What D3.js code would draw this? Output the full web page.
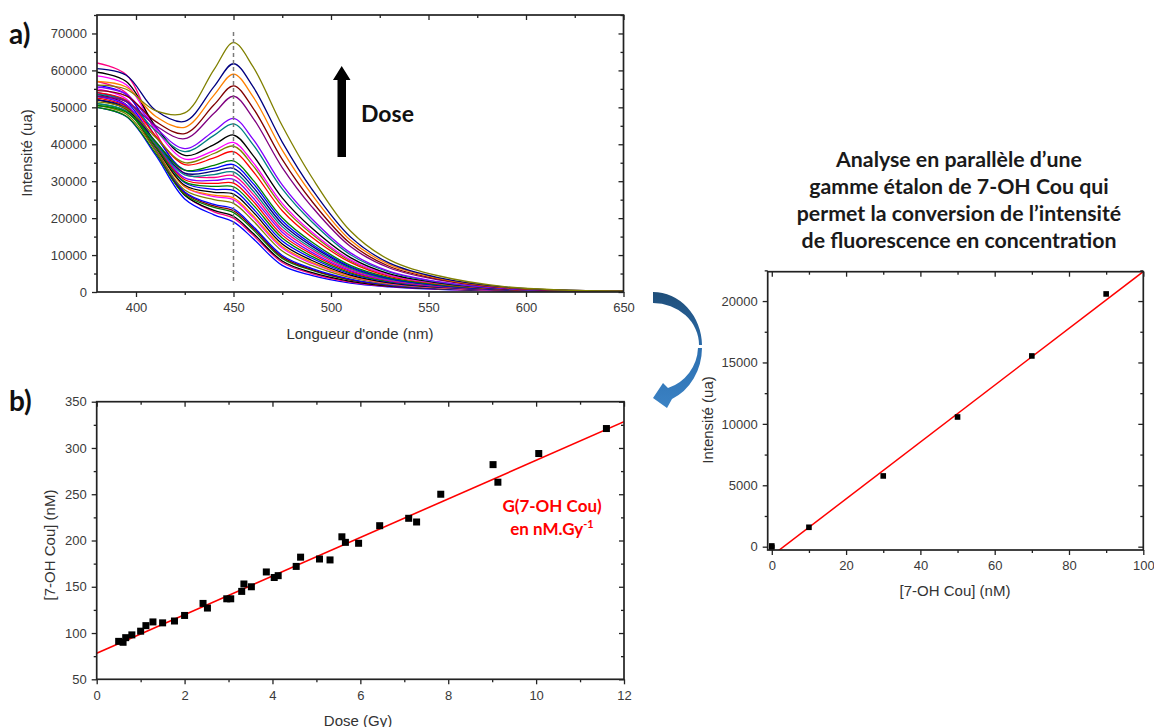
<!DOCTYPE html>
<html><head><meta charset="utf-8">
<script src="https://cdn.jsdelivr.net/npm/d3@7"></script>
<style>
body{margin:0;background:#fff;}
svg{display:block;}
</style></head><body>
<svg id="c" width="1154" height="727"></svg>
<script>
// ---------- Panel a : emission spectra ----------
const wavelengths = [380,395,410,425,440,450,460,475,490,510,530,555,590,650];
const spectra = [
 [56000,54900,49100,48500,60200,67500,61000,45000,31200,16500,8700,4400,1400,200],
 [60500,58700,49200,46200,55600,61800,55600,40600,28000,14900,7800,3900,1300,200],
 [57000,55500,47600,44600,53300,59000,52900,38400,26500,14000,7400,3700,1200,200],
 [54500,53100,46200,42900,50700,55800,49800,35900,24700,13100,6900,3500,1100,200],
 [53000,51600,45100,41500,48400,53000,47100,33700,23200,12300,6500,3300,1100,200],
 [55500,53600,44600,38800,43600,47000,41400,29000,19900,10600,5600,2800,900,200],
 [53500,51700,43700,38000,42400,45500,39900,27900,19100,10100,5400,2700,900,200],
 [59500,57000,44900,37000,39900,42500,37000,25500,17400,9300,4900,2500,800,100],
 [58500,56100,44200,36000,38300,40500,35100,24000,16300,8700,4600,2400,800,100],
 [51500,49700,41900,35000,37500,39500,34200,23200,15800,8400,4500,2300,800,100],
 [54000,51900,42300,34500,36300,38000,32700,22000,14900,8000,4200,2200,700,100],
 [50500,48700,40700,33000,34300,35500,30300,20100,13600,7200,3900,2000,700,100],
 [56000,53500,42200,33000,33500,34500,29400,19300,13000,6900,3700,1900,700,100],
 [52000,49900,40800,32200,32700,33500,28400,18500,12500,6700,3600,1800,600,100],
 [51000,49000,40200,31700,31800,32500,27400,17700,11900,6400,3400,1800,600,100],
 [62000,58800,43300,32100,31000,31500,26500,16900,11400,6100,3300,1700,600,100],
 [53000,50700,40400,30900,30200,30500,25500,16200,10800,5800,3100,1600,600,100],
 [52500,50200,40100,30400,29400,29500,24600,15400,10300,5500,3000,1500,500,100],
 [51000,48900,39400,29800,28600,28500,23600,14600,9700,5200,2800,1500,500,100],
 [54000,51500,40100,29600,27800,27500,22600,13800,9200,4900,2700,1400,500,100],
 [52000,49600,39300,28900,27000,26500,21700,13000,8600,4600,2500,1300,500,100],
 [52000,49600,39100,28500,26200,25500,20700,12300,8100,4300,2400,1200,500,100],
 [55000,52300,39900,28500,25800,25000,20200,11900,7800,4200,2300,1200,400,100],
 [50500,48200,38300,27600,25000,24000,19300,11100,7200,3900,2100,1100,400,100],
 [53000,50400,38700,27100,23700,22500,17800,9900,6400,3500,1900,1000,400,100],
 [52000,49400,38300,26800,23300,22000,17400,9500,6100,3300,1800,1000,400,100],
 [50000,47600,37600,26400,22900,21500,16900,9100,5900,3200,1800,900,400,100],
 [53500,50700,38500,26200,22100,20500,15900,8400,5300,2900,1600,900,300,100],
 [57000,53900,39400,26300,21700,20000,15400,8000,5000,2700,1500,800,300,100],
 [50000,47500,37100,25200,20900,19000,14500,7200,4500,2400,1400,700,300,100]
];
const spectraColors = ["#808000","#000080","#FF8000","#800000","#800080","#8000FF","#008080","#000000",
 "#FF00FF","#808000","#FF0000","#008000","#0000FF","#000080","#008080","#FF0080","#8000FF","#FF0000",
 "#008000","#0000FF","#000000","#FF8000","#FF00FF","#808000","#0000FF","#800000","#008000","#000000",
 "#FF0080","#0000FF"];
const peakWavelength = [450];
const aXMajor = [400,450,500,550,600,650];
const aXMinor = [425,475,525,575,625];
const aYMajor = [0,10000,20000,30000,40000,50000,60000,70000];
const aYMinor = [5000,15000,25000,35000,45000,55000,65000,75000];

// ---------- Panel b : concentration vs dose ----------
const doseGy = [0.5,0.6,0.66,0.8,1.0,1.12,1.28,1.5,1.77,2.0,2.42,2.52,2.96,3.05,3.3,3.35,3.52,3.86,4.04,4.13,4.54,4.64,5.07,5.31,5.58,5.66,5.96,6.44,7.1,7.28,7.83,9.02,9.13,10.06,11.6];
const concNM = [91,90,95,98,102,108,112,111,113,119,132,127,137,137,145,153,150,166,160,162,172,182,180,179,204,198,197,216,224,220,250,282,263,294,321];
const fitDose = [0,12];
const fitConc = [78.1,328.4];
const bXMajor = [0,2,4,6,8,10,12];
const bXMinor = [1,3,5,7,9,11];
const bYMajor = [50,100,150,200,250,300,350];
const bYMinor = [75,125,175,225,275,325];

// ---------- Panel c : calibration ----------
const stdConc = [0,0,10,30,50,70,90];
const stdIntensity = [-60,60,1580,5760,10560,15530,20580];
const calFitConc = [0,100];
const calFitInt = [-737,22403];
const cXMajor = [0,20,40,60,80,100];
const cXMinor = [10,30,50,70,90];
const cYMajor = [0,5000,10000,15000,20000];
const cYMinor = [2500,7500,12500,17500,22500];

const svg = d3.select("#c");
const TICK_FONT = "'Liberation Sans', Arial, sans-serif";
const CAL_FONT = "Lato, 'Open Sans', sans-serif";

function frame(x, y, o) {
  const [x0,x1] = x.range(), [y0,y1] = y.range();
  const g = svg.append("g");
  const add = (axis, tx, ty) => g.append("g").attr("class","ax")
      .attr("transform",`translate(${tx},${ty})`).call(axis.tickSizeOuter(0));
  add(d3.axisBottom(x).tickValues(o.xMajor).tickSize(5).tickPadding(6).tickFormat(d3.format("d")), 0, y0);
  add(d3.axisBottom(x).tickValues(o.xMinor).tickSize(3).tickFormat(""), 0, y0);
  add(d3.axisTop(x).tickValues(o.xMajor).tickSize(-5).tickFormat(""), 0, y1);
  add(d3.axisTop(x).tickValues(o.xMinor).tickSize(-3).tickFormat(""), 0, y1);
  add(d3.axisLeft(y).tickValues(o.yMajor).tickSize(5).tickPadding(5).tickFormat(d3.format("d")), x0, 0);
  add(d3.axisLeft(y).tickValues(o.yMinor).tickSize(3).tickFormat(""), x0, 0);
  add(d3.axisRight(y).tickValues(o.yMajor).tickSize(-5).tickFormat(""), x1, 0);
  add(d3.axisRight(y).tickValues(o.yMinor).tickSize(-3).tickFormat(""), x1, 0);
  g.selectAll(".ax .domain").remove();
  g.selectAll(".ax line").attr("stroke","#222").attr("stroke-width",1.3);
  g.selectAll(".ax").attr("font-family",TICK_FONT).attr("font-size",13);
  g.selectAll(".ax text").attr("fill","#3a3a3a");
  g.append("rect").attr("x",x0).attr("y",y1).attr("width",x1-x0).attr("height",y0-y1)
    .attr("fill","none").attr("stroke","#222").attr("stroke-width",1.7);
}
function clip(id, x, y) {
  const [x0,x1] = x.range(), [y0,y1] = y.range();
  svg.append("clipPath").attr("id",id).append("rect")
    .attr("x",x0).attr("y",y1).attr("width",x1-x0).attr("height",y0-y1);
}
function axisTitle(txt, cx, cy, rot) {
  svg.append("text").attr("x",cx).attr("y",cy)
    .attr("transform", rot ? `rotate(-90,${cx},${cy})` : null)
    .attr("text-anchor","middle").attr("dominant-baseline","central")
    .attr("font-family",TICK_FONT).attr("font-size",15).attr("fill","#333").text(txt);
}

// ===== Panel a =====
const xa = d3.scaleLinear().domain([380,650]).range([97,623.5]);
const ya = d3.scaleLinear().domain([0,75000]).range([292,15]);
clip("clipA", xa, ya);
const gA = svg.append("g").attr("clip-path","url(#clipA)");
const lineA = d3.line().x((d,i)=>xa(wavelengths[i])).y(d=>ya(d)).curve(d3.curveCatmullRom.alpha(0.5));
spectra.slice().reverse().forEach((s,k) => {
  const i = spectra.length-1-k;
  gA.append("path").attr("d",lineA(s)).attr("fill","none")
    .attr("stroke",spectraColors[i]).attr("stroke-width",1.3);
});
gA.selectAll(".peak").data(peakWavelength).join("line")
  .attr("x1",d=>xa(d)).attr("x2",d=>xa(d)).attr("y1",ya(70400)).attr("y2",ya(2400))
  .attr("stroke","#7a7a7a").attr("stroke-width",1.5).attr("stroke-dasharray","4,3");
frame(xa, ya, {xMajor:aXMajor,xMinor:aXMinor,yMajor:aYMajor,yMinor:aYMinor});
axisTitle("Longueur d'onde (nm)", 360, 333, false);
axisTitle("Intensité (ua)", 26, 153, true);
// Dose arrow
svg.append("path").attr("d","M337.5,157 L337.5,80 L333,80 L341.7,66 L350.5,80 L346,80 L346,157 Z").attr("fill","#000");
svg.append("text").attr("x",361).attr("y",121.5).attr("font-family",CAL_FONT).attr("font-weight",700)
  .attr("font-size",23).attr("fill","#111").text("Dose");
svg.append("text").attr("x",9).attr("y",44).attr("font-family",CAL_FONT).attr("font-weight",700)
  .attr("font-size",28).attr("fill","#111").text("a)");

// ===== Panel b =====
const xb = d3.scaleLinear().domain([0,12]).range([96.7,624]);
const yb = d3.scaleLinear().domain([50,350]).range([679.3,401.7]);
clip("clipB", xb, yb);
const gB = svg.append("g").attr("clip-path","url(#clipB)");
gB.append("path").attr("d", d3.line()(fitDose.map((d,i)=>[xb(d), yb(fitConc[i])])))
  .attr("stroke","#FF0000").attr("stroke-width",1.6).attr("fill","none");
gB.selectAll(".pt").data(doseGy).join("rect")
  .attr("x",(d)=>xb(d)-3.5).attr("y",(d,i)=>yb(concNM[i])-3.5).attr("width",7).attr("height",7).attr("fill","#000");
frame(xb, yb, {xMajor:bXMajor,xMinor:bXMinor,yMajor:bYMajor,yMinor:bYMinor});
axisTitle("Dose (Gy)", 358, 720, false);
axisTitle("[7-OH Cou] (nM)", 49, 545, true);
svg.append("text").attr("x",552).attr("y",512).attr("text-anchor","middle").attr("font-family",CAL_FONT)
  .attr("font-weight",700).attr("font-size",17).attr("fill","#FF0000").text("G(7-OH Cou)");
const t2 = svg.append("text").attr("x",552).attr("y",535).attr("text-anchor","middle").attr("font-family",CAL_FONT)
  .attr("font-weight",700).attr("font-size",17).attr("fill","#FF0000");
t2.append("tspan").text("en nM.Gy");
t2.append("tspan").attr("dy",-7).attr("font-size",11).text("-1");
svg.append("text").attr("x",9).attr("y",411).attr("font-family",CAL_FONT).attr("font-weight",700)
  .attr("font-size",28).attr("fill","#111").text("b)");

// ===== Panel c =====
const xc = d3.scaleLinear().domain([-1.1,100]).range([767.7,1143.3]);
const yc = d3.scaleLinear().domain([-270,22390]).range([550,271.7]);
clip("clipC", xc, yc);
const gC = svg.append("g").attr("clip-path","url(#clipC)");
gC.append("path").attr("d", d3.line()(calFitConc.map((d,i)=>[xc(d), yc(calFitInt[i])])))
  .attr("stroke","#FF0000").attr("stroke-width",1.5).attr("fill","none");
svg.append("g").selectAll("rect").data(stdConc).join("rect")
  .attr("x",d=>xc(d)-2.8).attr("y",(d,i)=>yc(stdIntensity[i])-2.8).attr("width",5.6).attr("height",5.6).attr("fill","#000");
frame(xc, yc, {xMajor:cXMajor,xMinor:cXMinor,yMajor:cYMajor,yMinor:cYMinor});
axisTitle("[7-OH Cou] (nM)", 955, 590, false);
axisTitle("Intensité (ua)", 707, 420, true);
const titleLines = ["Analyse en parallèle d\u2019une","gamme étalon de 7-OH Cou qui",
  "permet la conversion de l\u2019intensité","de fluorescence en concentration"];
svg.append("g").selectAll("text").data(titleLines).join("text")
  .attr("x",959).attr("y",(d,i)=>166.5+i*27.3).attr("text-anchor","middle")
  .attr("font-family",CAL_FONT).attr("font-weight",700).attr("font-size",21.3).attr("fill","#1a1a1a").text(d=>d);

// ===== curved arrow =====
const defs = svg.append("defs");
const g1 = defs.append("linearGradient").attr("id","gr1").attr("x1",0).attr("y1",0).attr("x2",0).attr("y2",1);
g1.append("stop").attr("offset","0%").attr("stop-color","#1F4E79");
g1.append("stop").attr("offset","100%").attr("stop-color","#2A6AA8");
const g2 = defs.append("linearGradient").attr("id","gr2").attr("x1",0).attr("y1",0).attr("x2",0).attr("y2",1);
g2.append("stop").attr("offset","0%").attr("stop-color","#2C6FB0");
g2.append("stop").attr("offset","100%").attr("stop-color","#3B82C4");
svg.append("path").attr("d","M653,292 A49,54 0 0 1 702,345 L699,345 A46,42 0 0 0 653,303 Z").attr("fill","url(#gr1)");
svg.append("path").attr("d","M702,348 A49,56 0 0 1 672,399 L667,408 L653,398 L663,383 L668,388 A44,44 0 0 0 698,348 Z").attr("fill","url(#gr2)");
</script>
</body></html>
